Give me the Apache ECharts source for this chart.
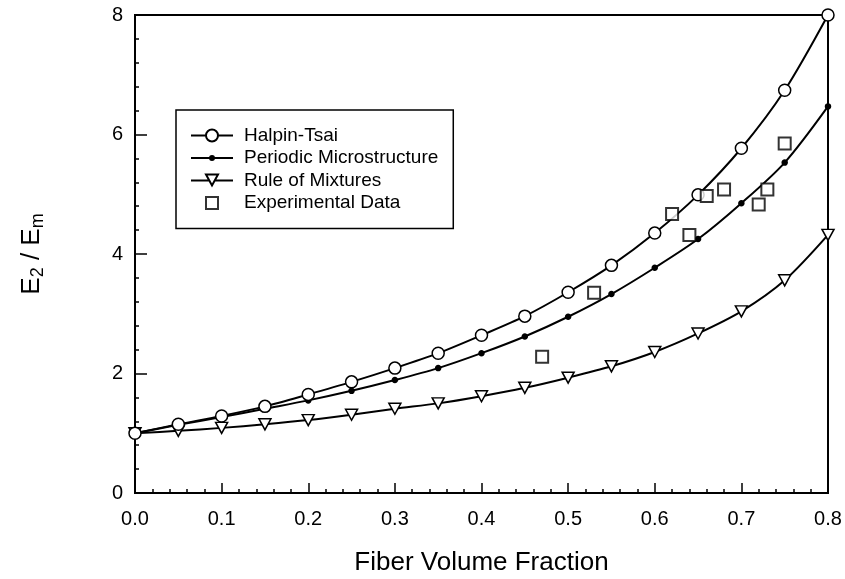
<!DOCTYPE html>
<html>
<head>
<meta charset="utf-8">
<script src="https://cdn.jsdelivr.net/npm/echarts@6/dist/echarts.min.js"></script>
<style>
  html, body { margin: 0; padding: 0; background: #fff; }
  #chart { width: 845px; height: 579px; }
</style>
</head>
<body>
<div id="chart"></div>
<script>
// fiber volume fraction where the model curves are marked
const fractions = [0, 0.05, 0.1, 0.15, 0.2, 0.25, 0.3, 0.35, 0.4, 0.45, 0.5, 0.55, 0.6, 0.65, 0.7, 0.75, 0.8];
const halpinTsai = [1.0, 1.15, 1.29, 1.45, 1.65, 1.86, 2.09, 2.34, 2.64, 2.96, 3.36, 3.81, 4.35, 4.99, 5.77, 6.74, 8.0];
const periodic = [1.0, 1.14, 1.27, 1.41, 1.55, 1.71, 1.89, 2.09, 2.34, 2.62, 2.95, 3.33, 3.77, 4.25, 4.85, 5.53, 6.47];
const ruleOfMixtures = [1.0, 1.04, 1.09, 1.15, 1.22, 1.31, 1.41, 1.5, 1.62, 1.76, 1.93, 2.12, 2.36, 2.67, 3.04, 3.56, 4.32];
const expFractions = [0.47, 0.53, 0.62, 0.64, 0.66, 0.68, 0.72, 0.73, 0.75];
const expValues = [2.28, 3.35, 4.67, 4.32, 4.97, 5.08, 4.83, 5.08, 5.85];
const seriesNames = ['Halpin-Tsai', 'Periodic Microstructure', 'Rule of Mixtures', 'Experimental Data'];

const FONT = 'Liberation Sans, Arial, Helvetica, sans-serif';
const triDown = 'path://M0,0L12,0L6,11Z';

const pairs = (xs, ys) => xs.map((x, i) => [x, ys[i]]);

// legend icons: 48x14 box, symbol centred at x=21
const legendIcons = [
    'path://M0,0M48,14M0,7H15M27,7H42M27,7A6,6 0 1 1 15,7A6,6 0 1 1 27,7Z',
    'path://M0,0M48,14M0,7H42M23,7A2,2 0 1 1 19,7A2,2 0 1 1 23,7Z',
    'path://M0,0M48,14M0,7H18.3M23.7,7H42M15,1H27L21,12Z',
    'path://M0,0M48,14M15,1H27V13H15Z'
];
const legendFills = ['#fff', '#000', '#fff', '#fff'];

const chart = echarts.init(document.getElementById('chart'));

const lineSeries = (name, values, symbol, size, fill, z) => ({
    name: name,
    type: 'line',
    data: pairs(fractions, values),
    smooth: 0.3,
    symbol: symbol,
    symbolSize: size,
    showAllSymbol: true,
    clip: false,
    z: z,
    lineStyle: { color: '#000', width: 2 },
    itemStyle: { color: fill, borderColor: '#000', borderWidth: 1.5 },
    emphasis: { disabled: true }
});

chart.setOption({
    animation: false,
    grid: {
        left: 135,
        right: 17,
        top: 15,
        bottom: 86,
        outerBoundsMode: 'none',
        show: true,
        borderColor: '#000',
        borderWidth: 2
    },
    legend: {
        orient: 'vertical',
        left: 176,
        top: 110,
        align: 'left',
        itemWidth: 48,
        itemHeight: 14,
        itemGap: 3.5,
        padding: [16, 15, 16, 14],
        borderColor: '#000',
        borderWidth: 1.5,
        selectedMode: false,
        textStyle: { fontFamily: FONT, fontSize: 19, color: '#000' },
        data: seriesNames.map((n, i) => ({
            name: n,
            icon: legendIcons[i],
            itemStyle: { color: legendFills[i], borderColor: '#000', borderWidth: 2 }
        }))
    },
    xAxis: {
        type: 'value',
        min: 0,
        max: 0.8,
        interval: 0.1,
        name: 'Fiber Volume Fraction',
        nameLocation: 'middle',
        nameGap: 57,
        nameTextStyle: { fontFamily: FONT, fontSize: 26, color: '#000' },
        axisLine: { lineStyle: { color: '#000', width: 2 } },
        axisTick: { inside: true, length: 10, lineStyle: { color: '#000', width: 1.5 } },
        minorTick: { show: true, splitNumber: 5, length: 4, lineStyle: { color: '#000', width: 1.5 } },
        splitLine: { show: false },
        axisLabel: {
            fontFamily: FONT, fontSize: 20, color: '#000', margin: 16,
            formatter: (v) => v.toFixed(1)
        }
    },
    yAxis: {
        type: 'value',
        min: 0,
        max: 8,
        interval: 2,
        name: '{e|E}{s|2}{e| / E}{s|m}',
        nameLocation: 'middle',
        nameRotate: 90,
        nameGap: 88,
        nameTextStyle: {
            fontFamily: FONT,
            color: '#000',
            rich: {
                e: { fontFamily: FONT, fontSize: 26, lineHeight: 28, verticalAlign: 'top', color: '#000' },
                s: { fontFamily: FONT, fontSize: 18, lineHeight: 20, padding: [14, 0, 0, 0], verticalAlign: 'bottom', color: '#000' }
            }
        },
        axisLine: { lineStyle: { color: '#000', width: 2 } },
        axisTick: { inside: true, length: 12, lineStyle: { color: '#000', width: 1.5 } },
        minorTick: { show: true, splitNumber: 5, length: 4, lineStyle: { color: '#000', width: 1.5 } },
        splitLine: { show: false },
        axisLabel: { fontFamily: FONT, fontSize: 20, color: '#000', margin: 12 }
    },
    series: [
        lineSeries(seriesNames[2], ruleOfMixtures, triDown, [12, 11], '#fff', 2),
        lineSeries(seriesNames[1], periodic, 'circle', 5, '#000', 3),
        lineSeries(seriesNames[0], halpinTsai, 'circle', 12, '#fff', 4),
        {
            name: seriesNames[3],
            type: 'scatter',
            data: pairs(expFractions, expValues),
            symbol: 'rect',
            symbolSize: 12,
            z: 5,
            itemStyle: { color: '#fff', borderColor: '#000', borderWidth: 2 },
            emphasis: { disabled: true }
        }
    ]
});
</script>
</body>
</html>
